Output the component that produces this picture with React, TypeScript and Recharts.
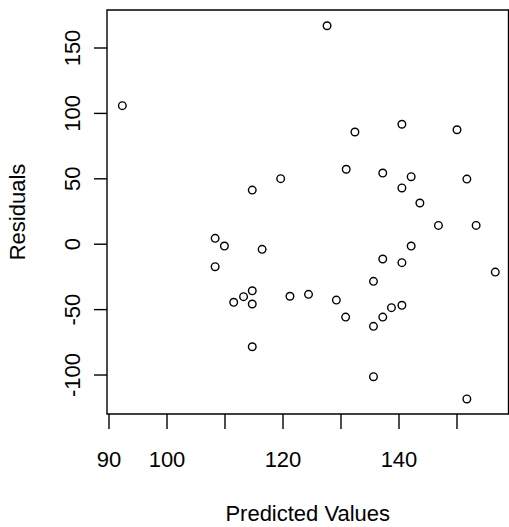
import { Label, ReferenceArea, Scatter, ScatterChart, XAxis, YAxis } from "recharts";

// fitted values and residuals, one entry per observation
const PRED = [
  92.3, 127.6, 132.4, 130.9, 137.2, 119.6, 114.7, 140.5, 150.0, 142.1, 140.5, 151.7, 143.6,
  146.8, 153.3, 116.4, 142.1, 140.5, 156.6, 138.7, 140.5, 137.2, 151.7, 137.2, 135.6, 121.2,
  124.4, 129.2, 130.8, 135.6, 135.6, 114.7, 114.7, 114.7, 108.3, 109.9, 108.3, 111.5, 113.2,
];
const RESID = [
  105.9, 167.0, 85.8, 57.3, 54.4, 50.1, 41.4, 91.7, 87.5, 51.6, 43.0, 49.8, 31.5,
  14.4, 14.4, -3.9, -1.4, -14.1, -21.3, -48.5, -46.7, -55.7, -118.3, -11.3, -28.4, -39.8,
  -38.3, -42.7, -55.7, -62.8, -101.3, -35.6, -45.7, -78.4, 4.5, -1.4, -17.2, -44.4, -40.1,
];

const X_TICKS = [90, 100, 110, 120, 130, 140, 150];
// base graphics drops labels that would crowd their neighbours
const X_TICK_LABELS = ["90", "100", "", "120", "", "140", ""];
const Y_TICKS = [-100, -50, 0, 50, 100, 150];
const Y_TICK_LABELS = ["-100", "-50", "0", "50", "100", "150"];

// axis extents (data range padded by 4%, as plot() does)
const X_DOMAIN: [number, number] = [89.655, 158.88];
const Y_DOMAIN: [number, number] = [-129.8, 179.05];

const FONT = "'Liberation Sans', Arial, sans-serif";
const FONT_SIZE = 22;

const points = PRED.map((x, i) => ({ x, y: RESID[i] }));

function XTick(props: any) {
  const { x, y, payload } = props;
  const label = X_TICK_LABELS[X_TICKS.indexOf(payload.value)];
  if (!label) return null;
  return (
    <text x={x} y={y} textAnchor="middle" fill="#000" fontFamily={FONT} fontSize={FONT_SIZE}>
      {label}
    </text>
  );
}

function YTick(props: any) {
  const { x, y, payload } = props;
  const label = Y_TICK_LABELS[Y_TICKS.indexOf(payload.value)];
  return (
    <text
      x={x}
      y={y}
      transform={`rotate(-90, ${x}, ${y})`}
      textAnchor="middle"
      fill="#000"
      fontFamily={FONT}
      fontSize={FONT_SIZE}
    >
      {label}
    </text>
  );
}

function OpenCircle(props: any) {
  const { cx, cy } = props;
  if (cx == null || cy == null) return null;
  return <circle cx={cx} cy={cy} r={3.8} fill="none" stroke="#000" strokeWidth={1.4} />;
}

export default function App() {
  return (
    <div style={{ position: "absolute", left: 0, top: 0, width: 509, height: 527, background: "#fff" }}>
      <ScatterChart width={509} height={527} margin={{ top: 10, right: 0.5, bottom: 0, left: 0 }}>
        <XAxis
          type="number"
          dataKey="x"
          domain={X_DOMAIN}
          ticks={X_TICKS}
          interval={0}
          height={113}
          axisLine={false}
          tickSize={15}
          tickMargin={38}
          tickLine={{ stroke: "#000", strokeWidth: 1.4 }}
          tick={<XTick />}
          allowDataOverflow
        >
          <Label
            content={({ viewBox }: any) => (
              <text
                x={viewBox.x + viewBox.width / 2}
                y={viewBox.y + 107}
                textAnchor="middle"
                fill="#000"
                fontFamily={FONT}
                fontSize={FONT_SIZE}
              >
                Predicted Values
              </text>
            )}
          />
        </XAxis>
        <YAxis
          type="number"
          dataKey="y"
          domain={Y_DOMAIN}
          ticks={Y_TICKS}
          interval={0}
          width={107}
          axisLine={false}
          tickSize={13}
          tickMargin={14}
          tickLine={{ stroke: "#000", strokeWidth: 1.4 }}
          tick={<YTick />}
          allowDataOverflow
        >
          <Label
            content={({ viewBox }: any) => {
              const cx = viewBox.x + 25;
              const cy = viewBox.y + viewBox.height / 2;
              return (
                <text
                  x={cx}
                  y={cy}
                  transform={`rotate(-90, ${cx}, ${cy})`}
                  textAnchor="middle"
                  fill="#000"
                  fontFamily={FONT}
                  fontSize={FONT_SIZE}
                >
                  Residuals
                </text>
              );
            }}
          />
        </YAxis>
        <ReferenceArea
          x1={X_DOMAIN[0]}
          x2={X_DOMAIN[1]}
          y1={Y_DOMAIN[0]}
          y2={Y_DOMAIN[1]}
          fill="none"
          stroke="#000"
          strokeWidth={1.4}
          ifOverflow="visible"
        />
        <Scatter data={points} shape={<OpenCircle />} isAnimationActive={false} />
      </ScatterChart>
    </div>
  );
}
